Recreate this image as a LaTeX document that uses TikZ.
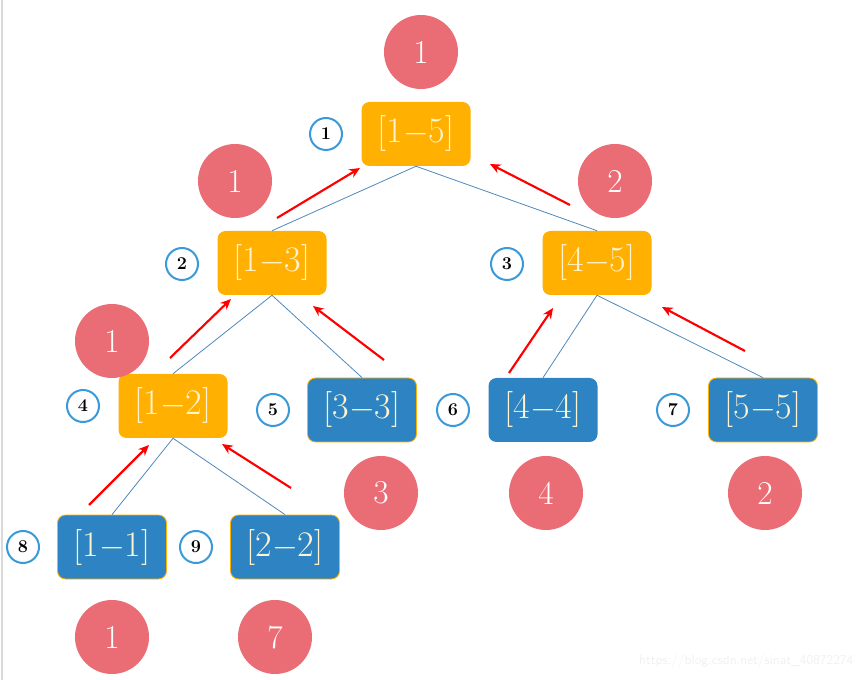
\documentclass[tikz,border=0pt]{standalone}
\usetikzlibrary{arrows.meta}
\usepackage{fontspec}
\definecolor{segorange}{HTML}{FFB000}
\definecolor{segblue}{HTML}{2E84C2}
\definecolor{valred}{HTML}{EA6C74}
\definecolor{idxblue}{HTML}{3A9AD9}
\definecolor{edgeblue}{HTML}{4F88BB}
\definecolor{boxtext}{HTML}{FFF3D0}
\begin{document}
\begin{tikzpicture}[x=0.75pt,y=-0.75pt,
  segbox/.style={rounded corners=6pt,minimum width=81.75pt,minimum height=48pt,inner sep=0pt,
    font=\fontsize{27}{30}\selectfont,text=boxtext},
  orangebox/.style={segbox,fill=segorange},
  bluebox/.style={segbox,fill=segblue,draw=segorange,line width=0.6pt},
  plainblue/.style={segbox,fill=segblue},
  valcircle/.style={circle,fill=valred,minimum size=55.5pt,inner sep=0pt,text=white,
    font=\fontsize{25}{28}\selectfont},
  idxcircle/.style={circle,draw=idxblue,line width=1.5pt,fill=white,minimum size=24pt,inner sep=0pt,
    font=\fontsize{13.5}{15}\selectfont\bfseries},
  treeedge/.style={draw=edgeblue,line width=0.6pt},
  uparrow/.style={draw=red,line width=1.6pt,-{Stealth[length=8pt,width=7pt]}}
]
\useasboundingbox (0,0) rectangle (867,680);
\draw[gray!30,line width=0.8pt] (2,0) -- (2,680);

% tree nodes
\node[orangebox] (n15) at (416,134) {[1$-$5]};
\node[orangebox] (n13) at (272,263) {[1$-$3]};
\node[orangebox] (n45) at (597,263) {[4$-$5]};
\node[orangebox] (n12) at (173,406) {[1$-$2]};
\node[bluebox] (n33) at (362,410) {[3$-$3]};
\node[plainblue] (n44) at (543,410) {[4$-$4]};
\node[bluebox] (n55) at (763,410) {[5$-$5]};
\node[bluebox] (n11) at (112,547) {[1$-$1]};
\node[bluebox] (n22) at (285,547) {[2$-$2]};

% edges
\path[treeedge] (n15.south) -- (n13.north);
\path[treeedge] (n15.south) -- (n45.north);
\path[treeedge] (n13.south) -- (n12.north);
\path[treeedge] (n13.south) -- (n33.north);
\path[treeedge] (n45.south) -- (n44.north);
\path[treeedge] (n45.south) -- (n55.north);
\path[treeedge] (n12.south) -- (n11.north);
\path[treeedge] (n12.south) -- (n22.north);

% index circles
\node[idxcircle] (i1) at (326,134) {1};
\node[idxcircle] (i2) at (182,264) {2};
\node[idxcircle] (i3) at (507,264) {3};
\node[idxcircle] (i4) at (83,406) {4};
\node[idxcircle] (i5) at (273,410) {5};
\node[idxcircle] (i6) at (453,410) {6};
\node[idxcircle] (i7) at (673,410) {7};
\node[idxcircle] (i8) at (23,547) {8};
\node[idxcircle] (i9) at (196,547) {9};

% value circles
\node[valcircle] (v15) at (421,52) {1};
\node[valcircle] (v13) at (235,181) {1};
\node[valcircle] (v45) at (615,181) {2};
\node[valcircle] (v12) at (112,341) {1};
\node[valcircle] (v33) at (381,493) {3};
\node[valcircle] (v44) at (546,493) {4};
\node[valcircle] (v55) at (765,493) {2};
\node[valcircle] (v11) at (112,637) {1};
\node[valcircle] (v22) at (275,637) {7};

% red arrows
\coordinate (a1s) at (277,218); \coordinate (a1e) at (360,168);
\coordinate (a2s) at (570,205); \coordinate (a2e) at (490,164);
\coordinate (a3s) at (170,358); \coordinate (a3e) at (231,299);
\coordinate (a4s) at (384,360); \coordinate (a4e) at (313,306);
\coordinate (a5s) at (509,373); \coordinate (a5e) at (553,308);
\coordinate (a6s) at (745,351); \coordinate (a6e) at (662,307);
\coordinate (a7s) at (89,505);  \coordinate (a7e) at (149,445);
\coordinate (a8s) at (291,488); \coordinate (a8e) at (222,444);
\draw[uparrow] (a1s) -- (a1e);
\draw[uparrow] (a2s) -- (a2e);
\draw[uparrow] (a3s) -- (a3e);
\draw[uparrow] (a4s) -- (a4e);
\draw[uparrow] (a5s) -- (a5e);
\draw[uparrow] (a6s) -- (a6e);
\draw[uparrow] (a7s) -- (a7e);
\draw[uparrow] (a8s) -- (a8e);

% watermark
\node[text=gray!12,font=\fontsize{10}{12}\selectfont\sffamily,anchor=east] (wm) at (858,661) {https://blog.csdn.net/sinat\_40872274};
\end{tikzpicture}
\end{document}
